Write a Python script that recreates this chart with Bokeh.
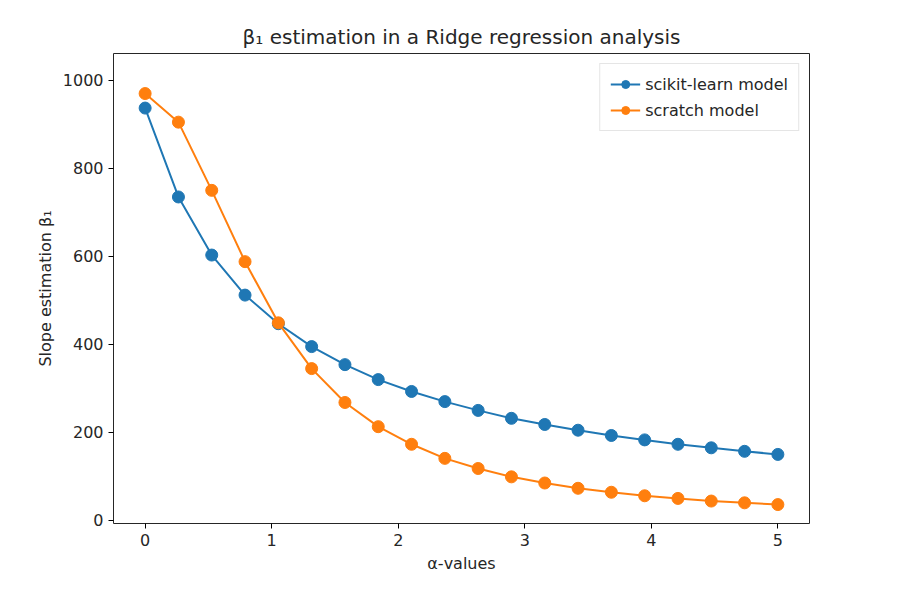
from bokeh.plotting import figure
from bokeh.embed import file_html
from bokeh.resources import INLINE
from bokeh.models import Range1d, Legend, LegendItem

alphas = [i * 5 / 19 for i in range(20)]
sklearn_beta = [937, 735, 603, 512, 447, 395, 354, 320, 293, 270,
                250, 232, 218, 205, 193, 183, 173, 165, 157, 150]
scratch_beta = [970, 905, 750, 588, 449, 345, 268, 213, 173, 141,
                118, 99, 85, 73, 64, 56, 50, 44, 40, 36]

p = figure(width=900, height=600, output_backend="svg", toolbar_location=None,
           x_range=Range1d(-0.25, 5.25), y_range=Range1d(-7, 1061),
           min_border_left=113, min_border_right=91, min_border_top=53, min_border_bottom=77)
p.title.text = "β₁ estimation in a Ridge regression analysis"
p.title.align = "center"
p.title.text_font = "DejaVu Sans"
p.title.text_font_size = "15pt"
p.title.text_font_style = "normal"
p.title.text_color = "#262626"
p.xaxis.axis_label = "α-values"
p.yaxis.axis_label = "Slope estimation β₁"
for ax in (p.xaxis, p.yaxis):
    ax.axis_label_text_font = "DejaVu Sans"
    ax.axis_label_text_font_size = "12pt"
    ax.axis_label_text_font_style = "normal"
    ax.axis_label_text_color = "#262626"
    ax.major_label_text_font = "DejaVu Sans"
    ax.major_label_text_font_size = "12pt"
    ax.major_label_text_color = "#262626"
    ax.minor_tick_line_color = None
    ax.major_tick_in = 0
    ax.major_tick_out = 5
    ax.axis_line_color = None
p.xaxis.ticker = [0, 1, 2, 3, 4, 5]
p.yaxis.ticker = [0, 200, 400, 600, 800, 1000]
p.xgrid.grid_line_color = None
p.ygrid.grid_line_color = None
p.outline_line_color = "#262626"
p.outline_line_width = 1

l1 = p.line(alphas, sklearn_beta, line_color="#1f77b4", line_width=2)
c1 = p.scatter(alphas, sklearn_beta, size=12, color="#1f77b4")
l2 = p.line(alphas, scratch_beta, line_color="#ff7f0e", line_width=2)
c2 = p.scatter(alphas, scratch_beta, size=12, color="#ff7f0e")

legend = Legend(items=[LegendItem(label="scikit-learn model", renderers=[l1, c1]),
                       LegendItem(label="scratch model", renderers=[l2, c2])],
                location="top_right", label_text_font="DejaVu Sans",
                label_text_font_size="12pt", label_text_color="#262626",
                border_line_color="#cccccc", glyph_width=30, spacing=6, margin=10)
p.add_layout(legend)

open("out.html", "w").write(file_html(p, INLINE))
